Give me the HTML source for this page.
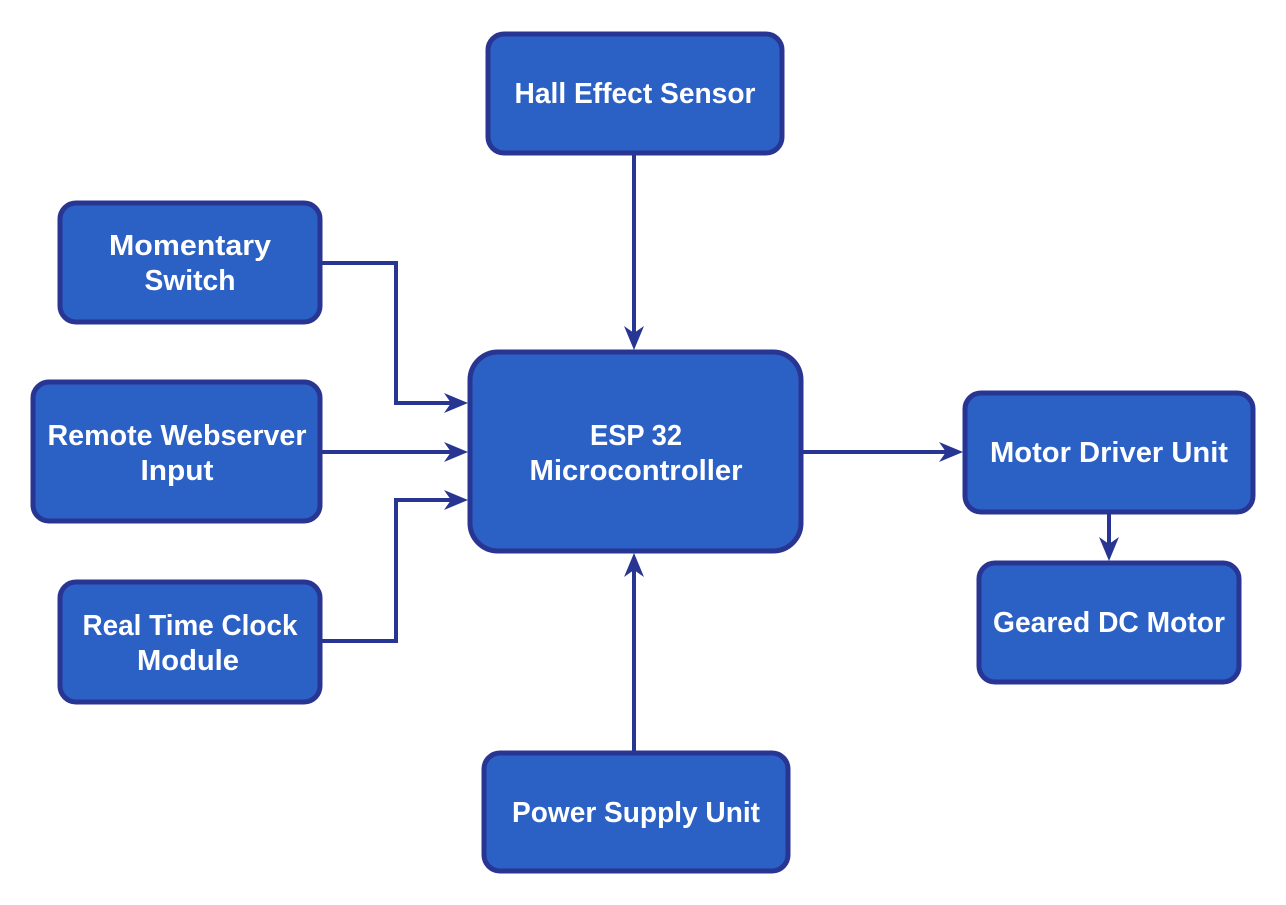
<!DOCTYPE html>
<html><head><meta charset="utf-8"><style>
html,body{margin:0;padding:0;background:#fff;}
svg{display:block;}
text{font-family:"Liberation Sans",sans-serif;font-weight:bold;font-size:29px;fill:#fff;}
</style></head><body>
<svg width="1286" height="905" viewBox="0 0 1286 905" xmlns="http://www.w3.org/2000/svg">
<g fill="#2b60c5" stroke="#283593" stroke-width="5">
<rect x="488" y="34" width="294" height="119" rx="16"/>
<rect x="60" y="203" width="260" height="119" rx="16"/>
<rect x="33" y="382" width="287" height="139" rx="16"/>
<rect x="60" y="582" width="260" height="120" rx="16"/>
<rect x="470" y="352" width="331" height="199" rx="28"/>
<rect x="965" y="393" width="288" height="119" rx="16"/>
<rect x="979" y="563" width="260" height="119" rx="16"/>
<rect x="484" y="753" width="304" height="118" rx="16"/>
</g>
<g stroke="#283593" stroke-width="4" fill="none">
<path d="M634 155 V340"/>
<path d="M322 263 H396 V403 H458"/>
<path d="M322 452 H458"/>
<path d="M322 641 H396 V500 H458"/>
<path d="M803 452 H952"/>
<path d="M1109 514 V552"/>
<path d="M634 751 V565"/>
</g>
<g fill="#283593">
<path d="M634 350 L624 326 L634 333 L644 326Z"/>
<path d="M468 403 L444 393 L451 403 L444 413Z"/>
<path d="M468 452 L444 442 L451 452 L444 462Z"/>
<path d="M468 500 L444 490 L451 500 L444 510Z"/>
<path d="M963 452 L939 442 L946 452 L939 462Z"/>
<path d="M1109 561 L1099 537 L1109 544 L1119 537Z"/>
<path d="M634 553 L624 577 L634 570 L644 577Z"/>
</g>
<g text-anchor="middle">
<text x="635" y="103" textLength="241" lengthAdjust="spacingAndGlyphs">Hall Effect Sensor</text>
<text x="190" y="255" textLength="162" lengthAdjust="spacingAndGlyphs">Momentary</text>
<text x="190" y="290" textLength="91" lengthAdjust="spacingAndGlyphs">Switch</text>
<text x="177" y="445" textLength="259" lengthAdjust="spacingAndGlyphs">Remote Webserver</text>
<text x="177" y="480" textLength="73" lengthAdjust="spacingAndGlyphs">Input</text>
<text x="190" y="635" textLength="215" lengthAdjust="spacingAndGlyphs">Real Time Clock</text>
<text x="188" y="670" textLength="102" lengthAdjust="spacingAndGlyphs">Module</text>
<text x="636" y="445" textLength="92" lengthAdjust="spacingAndGlyphs">ESP 32</text>
<text x="636" y="480" textLength="213" lengthAdjust="spacingAndGlyphs">Microcontroller</text>
<text x="1109" y="462" textLength="238" lengthAdjust="spacingAndGlyphs">Motor Driver Unit</text>
<text x="1109" y="632" textLength="232" lengthAdjust="spacingAndGlyphs">Geared DC Motor</text>
<text x="636" y="822" textLength="248" lengthAdjust="spacingAndGlyphs">Power Supply Unit</text>
</g>
</svg>
</body></html>
